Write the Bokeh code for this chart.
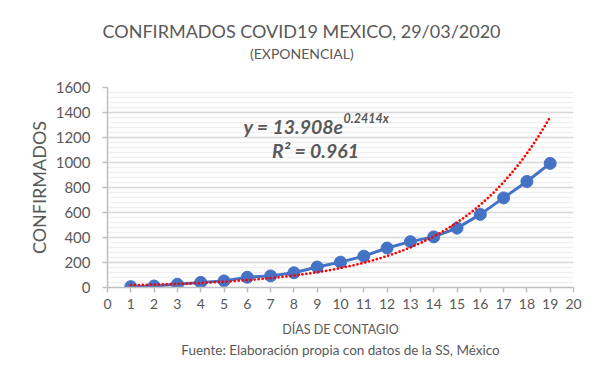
import numpy as np
from bokeh.plotting import figure
from bokeh.models import Label, SingleIntervalTicker, Range1d, Title
from bokeh.embed import file_html
from bokeh.resources import INLINE

# ---- data ----
dias = list(range(1, 20))
confirmados = [7, 12, 26, 41, 53, 82, 93, 118, 164, 203, 251, 316, 367, 405, 475, 585, 717, 848, 993]
trend_a = 13.908   # coefficient shown on the chart
trend_b = 0.2414   # exponent shown on the chart
eq_main = "y = 13.908e"
eq_exp = "0.2414x"
r2_text = "R² = 0.961"
title_text = "CONFIRMADOS COVID19 MEXICO, 29/03/2020"
subtitle_text = "(EXPONENCIAL)"
ylabel_text = "CONFIRMADOS"
xlabel_text = "DÍAS DE CONTAGIO"
source_text = "Fuente: Elaboración propia con datos de la SS, México"

FONT = "Lato"
GREY = "#595959"

p = figure(width=602, height=381, output_backend="svg", toolbar_location=None,
           x_range=Range1d(0, 20), y_range=Range1d(0, 1600),
           min_border_left=107, min_border_right=29, min_border_top=87, min_border_bottom=94)
p.outline_line_color = None
p.background_fill_color = "white"
p.border_fill_color = "white"

p.xaxis.ticker = SingleIntervalTicker(interval=1, num_minor_ticks=0)
p.yaxis.ticker = SingleIntervalTicker(interval=200, num_minor_ticks=5)
for ax in (p.xaxis, p.yaxis):
    ax.axis_line_color = "#bfbfbf"
    ax.axis_line_width = 1.5
    ax.major_tick_line_color = "#bfbfbf"
    ax.major_tick_line_width = 1.5
    ax.major_tick_out = 5
    ax.major_tick_in = 0
    ax.minor_tick_out = 0
    ax.minor_tick_in = 0
    ax.major_label_text_color = GREY
    ax.major_label_text_font = FONT
    ax.axis_label_text_color = GREY
    ax.axis_label_text_font = FONT
    ax.axis_label_text_font_style = "normal"
p.yaxis.major_label_text_font_size = "15px"
p.xaxis.major_label_text_font_size = "14px"
p.yaxis.major_label_standoff = 12
p.xaxis.major_label_standoff = 6
p.yaxis.axis_label = ylabel_text
p.yaxis.axis_label_text_font_size = "18px"
p.yaxis.axis_label_standoff = 3
p.xaxis.axis_label = xlabel_text
p.xaxis.axis_label_text_font_size = "12.5px"
p.xaxis.axis_label_standoff = 10

p.xgrid.grid_line_color = None
p.ygrid.grid_line_color = "#d9d9d9"
p.ygrid.grid_line_width = 1.5
p.ygrid.minor_grid_line_color = "#f0f0f0"
p.ygrid.minor_grid_line_width = 1.5

# titles: spacer, subtitle, title (stacked outward from the plot area)
p.add_layout(Title(text=" ", text_font=FONT, text_font_size="10px", standoff=12), "above")
p.add_layout(Title(text=subtitle_text, align="left", offset=142.5, text_font=FONT,
                   text_font_size="14px", text_font_style="normal", text_color=GREY,
                   standoff=0), "above")
p.add_layout(Title(text=title_text, align="left", offset=-5, text_font=FONT,
                   text_font_size="18px", text_font_style="normal", text_color=GREY,
                   standoff=1), "above")
p.add_layout(Title(text=source_text, align="center", text_font=FONT,
                   text_font_size="13.5px", text_font_style="normal", text_color=GREY,
                   standoff=0), "below")

# series
p.line(dias, confirmados, line_color="#4472C4", line_width=3)
p.scatter(dias, confirmados, size=12, fill_color="#4472C4", line_color="#4472C4")

# exponential trendline from the chart's displayed equation
xt = np.linspace(dias[0], dias[-1], 200)
yt = trend_a * np.exp(trend_b * xt)
p.line(xt, yt, line_color="#ff0000", line_width=2.75, line_dash="0 4", line_cap="round")

# equation texts (screen units relative to frame bottom-left)
def lab(text, x, y, size, align="center", style="normal"):
    p.add_layout(Label(x=x, y=y, x_units="screen", y_units="screen", text=text,
                       text_font=FONT, text_font_size=size, text_color=GREY,
                       text_align=align, text_baseline="alphabetic",
                       text_font_style=style))

lab(eq_main, 236, 161, "19.5px", align="right", style="bold italic")
lab(eq_exp, 236, 169.5, "12.5px", align="left", style="bold italic")
lab(r2_text, 208, 137, "19.5px", style="bold italic")

open("out.html", "w").write(file_html(p, INLINE))
